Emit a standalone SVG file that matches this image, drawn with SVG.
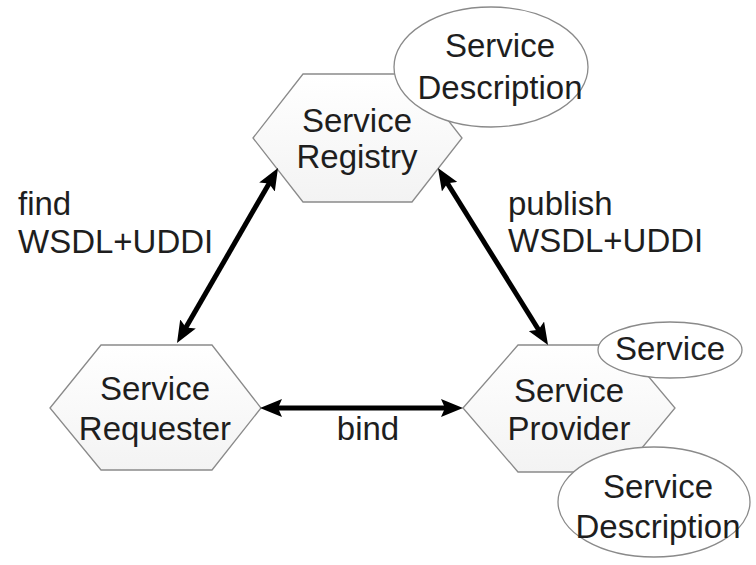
<svg xmlns="http://www.w3.org/2000/svg" width="756" height="565" viewBox="0 0 756 565">
<style>
.hex{fill:url(#hg);stroke:#8a8a8a;stroke-width:1.3}
.ell{fill:#ffffff;stroke:#8a8a8a;stroke-width:1.3}
text{font-family:"Liberation Sans",Arial,sans-serif;font-size:33px;fill:#1e1e1e}
.c{text-anchor:middle}
.conn{stroke:#000;stroke-width:5;fill:none;marker-start:url(#ah);marker-end:url(#ah)}
</style>
<defs>
<linearGradient id="hg" x1="0" y1="0" x2="0" y2="1">
<stop offset="0" stop-color="#ffffff"/>
<stop offset="1" stop-color="#f3f3f3"/>
</linearGradient>
<marker id="ah" viewBox="0 0 22 18" refX="10" refY="9" markerWidth="22" markerHeight="18" markerUnits="userSpaceOnUse" orient="auto-start-reverse">
<path d="M0,0 L22,9 L0,18 L4,9 z" fill="#000"/>
</marker>
</defs>
<rect width="756" height="565" fill="#ffffff"/>
<g id="registry">
<polygon class="hex" points="253,138 303,74 412,74 462,138 412,202 303,202"/>
<text class="c" x="357" y="132">Service</text>
<text class="c" x="357" y="168">Registry</text>
</g>
<g id="registry-description">
<ellipse class="ell" cx="491" cy="67" rx="97" ry="60"/>
<text class="c" x="500" y="57">Service</text>
<text class="c" x="500" y="99">Description</text>
</g>
<g id="requester">
<polygon class="hex" points="50,408 101,345 212,345 261,408 212,470 101,470"/>
<text class="c" x="155" y="400">Service</text>
<text class="c" x="155" y="440">Requester</text>
</g>
<g id="provider">
<polygon class="hex" points="463,408 518,345 622,345 675,408 622,472 518,472"/>
<text class="c" x="569" y="402">Service</text>
<text class="c" x="569" y="440">Provider</text>
</g>
<g id="service">
<ellipse class="ell" cx="670" cy="350" rx="72" ry="28"/>
<text class="c" x="670" y="360">Service</text>
</g>
<g id="provider-description">
<ellipse class="ell" cx="654" cy="502" rx="96" ry="55"/>
<text class="c" x="658" y="498">Service</text>
<text class="c" x="658" y="538">Description</text>
</g>
<g id="connectors">
<line class="conn" x1="272" y1="178.4" x2="183" y2="332.6"/>
<line class="conn" x1="444.3" y1="178.2" x2="541.7" y2="334.8"/>
<line class="conn" x1="272" y1="408" x2="451" y2="408"/>
<text x="18" y="215">find</text>
<text x="18" y="253">WSDL+UDDI</text>
<text x="508" y="215">publish</text>
<text x="508" y="252">WSDL+UDDI</text>
<text class="c" x="368" y="440">bind</text>
</g>
</svg>
